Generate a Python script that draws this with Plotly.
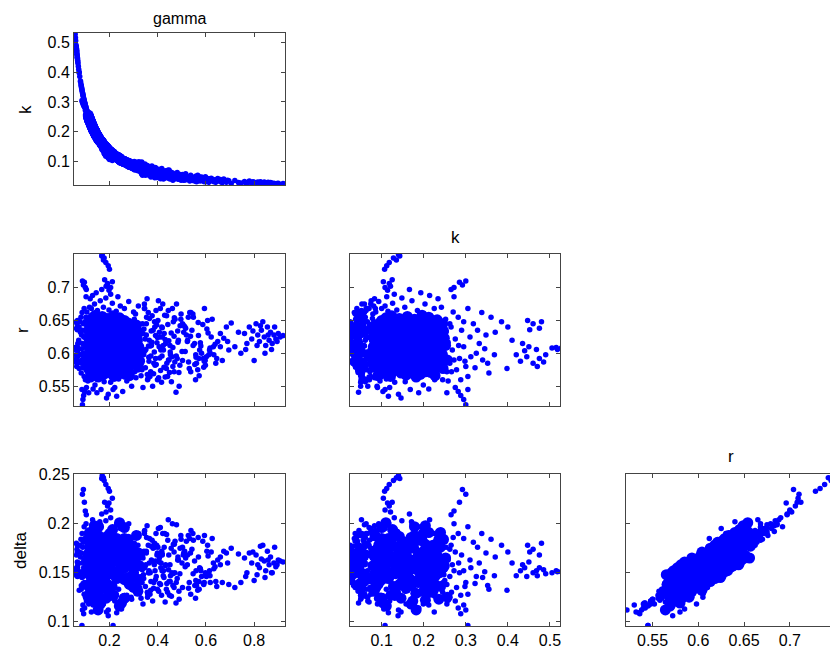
import plotly.graph_objects as go

# ---------------- data ----------------
# dense core of the posterior sample cloud
core_gamma = [
    0.283, 0.241, 0.219, 0.187, 0.172, 0.153, 0.144, 0.130, 0.124,
    0.318, 0.276, 0.250, 0.212, 0.193, 0.168, 0.157, 0.140, 0.134, 0.120, 0.115,
    0.325, 0.285, 0.240, 0.218, 0.186, 0.173, 0.152, 0.145, 0.129, 0.124, 0.112,
    0.314, 0.279, 0.248, 0.211, 0.194, 0.167, 0.158, 0.139, 0.135, 0.119, 0.116,
    0.322, 0.283, 0.243, 0.216, 0.188, 0.171, 0.153, 0.143, 0.131, 0.123, 0.113,
    0.316, 0.277, 0.246, 0.214, 0.191, 0.169, 0.156, 0.141, 0.133, 0.121, 0.114,
    0.321, 0.281, 0.244, 0.217, 0.189, 0.172, 0.154, 0.144, 0.130, 0.122, 0.115,
    0.312, 0.278, 0.247, 0.213, 0.192, 0.168, 0.157, 0.140, 0.134, 0.120, 0.116,
    0.242, 0.215, 0.190, 0.170, 0.155, 0.142, 0.132, 0.122]
core_k = [
    0.091, 0.111, 0.121, 0.146, 0.158, 0.182, 0.192, 0.216, 0.227,
    0.082, 0.095, 0.104, 0.127, 0.139, 0.164, 0.174, 0.199, 0.208, 0.236, 0.246,
    0.079, 0.090, 0.112, 0.122, 0.147, 0.157, 0.181, 0.191, 0.218, 0.228, 0.256,
    0.083, 0.094, 0.105, 0.128, 0.138, 0.166, 0.172, 0.201, 0.206, 0.238, 0.244,
    0.080, 0.092, 0.109, 0.123, 0.145, 0.159, 0.179, 0.194, 0.214, 0.230, 0.252,
    0.082, 0.096, 0.106, 0.125, 0.141, 0.162, 0.176, 0.197, 0.210, 0.234, 0.249,
    0.080, 0.093, 0.108, 0.122, 0.144, 0.158, 0.178, 0.193, 0.216, 0.232, 0.247,
    0.084, 0.095, 0.105, 0.126, 0.140, 0.163, 0.175, 0.199, 0.208, 0.236, 0.245,
    0.110, 0.124, 0.142, 0.161, 0.178, 0.196, 0.212, 0.232]
core_r = [
    0.566, 0.569, 0.565, 0.570, 0.567, 0.564, 0.568, 0.571, 0.566,
    0.579, 0.576, 0.580, 0.577, 0.581, 0.575, 0.578, 0.582, 0.576, 0.579, 0.577,
    0.588, 0.591, 0.587, 0.590, 0.586, 0.592, 0.589, 0.585, 0.591, 0.588, 0.590,
    0.601, 0.598, 0.602, 0.599, 0.603, 0.597, 0.600, 0.604, 0.598, 0.601, 0.599,
    0.610, 0.613, 0.609, 0.612, 0.608, 0.614, 0.611, 0.607, 0.613, 0.610, 0.612,
    0.621, 0.624, 0.620, 0.623, 0.619, 0.625, 0.622, 0.618, 0.624, 0.621, 0.623,
    0.632, 0.635, 0.631, 0.634, 0.630, 0.636, 0.633, 0.629, 0.635, 0.632, 0.634,
    0.643, 0.646, 0.642, 0.645, 0.641, 0.647, 0.644, 0.640, 0.646, 0.643, 0.645,
    0.654, 0.657, 0.653, 0.656, 0.652, 0.658, 0.655, 0.651]
core_delta = [
    0.138, 0.116, 0.148, 0.124, 0.134, 0.112, 0.144, 0.130, 0.138,
    0.131, 0.141, 0.119, 0.151, 0.137, 0.145, 0.121, 0.149, 0.145, 0.123, 0.155,
    0.157, 0.143, 0.151, 0.127, 0.155, 0.151, 0.129, 0.161, 0.137, 0.147, 0.125,
    0.134, 0.162, 0.158, 0.136, 0.168, 0.144, 0.154, 0.132, 0.164, 0.150, 0.158,
    0.143, 0.175, 0.151, 0.161, 0.139, 0.171, 0.157, 0.165, 0.141, 0.169, 0.165,
    0.167, 0.145, 0.177, 0.163, 0.171, 0.147, 0.175, 0.171, 0.149, 0.181, 0.157,
    0.170, 0.178, 0.154, 0.182, 0.178, 0.156, 0.188, 0.164, 0.174, 0.152, 0.184,
    0.188, 0.184, 0.162, 0.194, 0.170, 0.180, 0.158, 0.190, 0.176, 0.184, 0.160,
    0.201, 0.177, 0.187, 0.165, 0.197, 0.183, 0.191, 0.167]

# second, interleaved set of dense-core samples
core2_gamma = [
    0.262, 0.230, 0.202, 0.180, 0.162, 0.148, 0.137, 0.127,
    0.300, 0.262, 0.230, 0.202, 0.180, 0.162, 0.148, 0.137, 0.127, 0.118,
    0.300, 0.262, 0.230, 0.202, 0.180, 0.162, 0.148, 0.137, 0.127, 0.118,
    0.300, 0.262, 0.230, 0.202, 0.180, 0.162, 0.148, 0.137, 0.127, 0.118,
    0.300, 0.262, 0.230, 0.202, 0.180, 0.162, 0.148, 0.137, 0.127, 0.118,
    0.300, 0.262, 0.230, 0.202, 0.180, 0.162, 0.148, 0.137, 0.127, 0.118,
    0.300, 0.262, 0.230, 0.202, 0.180, 0.162, 0.148, 0.137, 0.127, 0.118,
    0.262, 0.230, 0.202, 0.180, 0.162, 0.148, 0.137, 0.127]
core2_k = [
    0.100, 0.116, 0.133, 0.151, 0.170, 0.187, 0.204, 0.222,
    0.086, 0.100, 0.116, 0.133, 0.151, 0.170, 0.187, 0.204, 0.222, 0.240,
    0.086, 0.100, 0.116, 0.133, 0.151, 0.170, 0.187, 0.204, 0.222, 0.240,
    0.086, 0.100, 0.116, 0.133, 0.151, 0.170, 0.187, 0.204, 0.222, 0.240,
    0.086, 0.100, 0.116, 0.133, 0.151, 0.170, 0.187, 0.204, 0.222, 0.240,
    0.086, 0.100, 0.116, 0.133, 0.151, 0.170, 0.187, 0.204, 0.222, 0.240,
    0.086, 0.100, 0.116, 0.133, 0.151, 0.170, 0.187, 0.204, 0.222, 0.240,
    0.100, 0.116, 0.133, 0.151, 0.170, 0.187, 0.204, 0.222]
core2_r = [
    0.573, 0.571, 0.574, 0.572, 0.570, 0.574, 0.572, 0.573,
    0.584, 0.582, 0.585, 0.583, 0.581, 0.585, 0.583, 0.584, 0.582, 0.585,
    0.595, 0.593, 0.596, 0.594, 0.592, 0.596, 0.594, 0.595, 0.593, 0.596,
    0.606, 0.604, 0.607, 0.605, 0.603, 0.607, 0.605, 0.606, 0.604, 0.607,
    0.617, 0.615, 0.618, 0.616, 0.614, 0.618, 0.616, 0.617, 0.615, 0.618,
    0.628, 0.626, 0.629, 0.627, 0.625, 0.629, 0.627, 0.628, 0.626, 0.629,
    0.639, 0.637, 0.640, 0.638, 0.636, 0.640, 0.638, 0.639, 0.637, 0.640,
    0.650, 0.648, 0.651, 0.649, 0.647, 0.651, 0.649, 0.650]
core2_delta = [
    0.124, 0.150, 0.130, 0.144, 0.118, 0.140, 0.122, 0.152,
    0.150, 0.124, 0.146, 0.128, 0.158, 0.138, 0.152, 0.130, 0.156, 0.136,
    0.135, 0.165, 0.145, 0.159, 0.137, 0.163, 0.143, 0.157, 0.131, 0.153,
    0.165, 0.143, 0.169, 0.149, 0.163, 0.137, 0.159, 0.141, 0.171, 0.151,
    0.156, 0.170, 0.144, 0.166, 0.148, 0.178, 0.158, 0.172, 0.150, 0.176,
    0.173, 0.155, 0.185, 0.165, 0.179, 0.157, 0.183, 0.163, 0.177, 0.151,
    0.171, 0.185, 0.163, 0.189, 0.169, 0.183, 0.157, 0.179, 0.161, 0.191,
    0.196, 0.176, 0.190, 0.164, 0.186, 0.168, 0.198, 0.178]

# small-gamma / large-k strip, periphery and outliers
edge_gamma = [
    0.0672, 0.0654, 0.0635, 0.0665, 0.0629, 0.0688, 0.0667, 0.0645, 0.0681, 0.0710,
    0.0695, 0.0675, 0.0654, 0.0635, 0.0618, 0.0641, 0.0624, 0.0600, 0.0590, 0.0578,
    0.0746, 0.0725, 0.0769, 0.0743, 0.0797, 0.0545,
    0.116, 0.112, 0.1093, 0.114, 0.107, 0.1108, 0.1152, 0.1082, 0.1132, 0.1064,
    0.1172, 0.1034, 0.1011, 0.1045, 0.0995, 0.1021, 0.098, 0.0964, 0.095, 0.0937,
    0.0915, 0.0898, 0.088, 0.0861, 0.0844, 0.0829, 0.0818, 0.0866, 0.0932, 0.1002,
    0.1093, 0.1055, 0.1148, 0.1108, 0.098, 0.0905, 0.085, 0.0802, 0.0835, 0.095,
    0.1045, 0.1156, 0.1128, 0.1018, 0.1078, 0.1168, 0.0971, 0.089,
    0.125, 0.138, 0.150, 0.162, 0.175, 0.185, 0.198, 0.212, 0.228, 0.245,
    0.262, 0.280, 0.300, 0.130, 0.145, 0.205, 0.120, 0.168, 0.235, 0.320,
    0.125, 0.140, 0.152, 0.165, 0.178, 0.195, 0.205, 0.222, 0.238, 0.255,
    0.272, 0.292, 0.310, 0.188, 0.148, 0.230, 0.132, 0.262,
    0.140, 0.175, 0.210, 0.250, 0.160, 0.290, 0.125, 0.230, 0.195, 0.310, 0.270, 0.145,
    0.170, 0.178, 0.185, 0.175, 0.195, 0.200, 0.168,
    0.180, 0.192, 0.205, 0.212, 0.186, 0.198,
    0.088, 0.092, 0.096, 0.100, 0.104,
    0.088, 0.090, 0.093, 0.097, 0.086, 0.215,
    0.114, 0.103]
edge_k = [
    0.447, 0.460, 0.475, 0.452, 0.480, 0.435, 0.450, 0.468, 0.440, 0.420,
    0.430, 0.445, 0.460, 0.475, 0.490, 0.470, 0.485, 0.505, 0.515, 0.527,
    0.398, 0.410, 0.385, 0.400, 0.370, 0.518,
    0.245, 0.255, 0.262, 0.250, 0.268, 0.258, 0.247, 0.265, 0.252, 0.270,
    0.242, 0.278, 0.285, 0.275, 0.290, 0.282, 0.295, 0.300, 0.305, 0.310,
    0.318, 0.325, 0.332, 0.340, 0.348, 0.355, 0.360, 0.338, 0.312, 0.288,
    0.262, 0.272, 0.248, 0.258, 0.295, 0.322, 0.345, 0.368, 0.352, 0.305,
    0.275, 0.246, 0.253, 0.283, 0.266, 0.243, 0.298, 0.328,
    0.225, 0.203, 0.185, 0.172, 0.155, 0.148, 0.136, 0.126, 0.115, 0.108,
    0.100, 0.093, 0.086, 0.214, 0.193, 0.130, 0.234, 0.166, 0.112, 0.081,
    0.226, 0.199, 0.182, 0.168, 0.156, 0.140, 0.131, 0.119, 0.111, 0.103,
    0.096, 0.089, 0.083, 0.146, 0.188, 0.116, 0.212, 0.099,
    0.197, 0.158, 0.128, 0.105, 0.171, 0.090, 0.225, 0.117, 0.139, 0.084, 0.097, 0.190,
    0.140, 0.128, 0.118, 0.135, 0.112, 0.107, 0.143,
    0.125, 0.118, 0.108, 0.104, 0.121, 0.114,
    0.300, 0.292, 0.285, 0.272, 0.265,
    0.300, 0.295, 0.288, 0.282, 0.305, 0.108,
    0.255, 0.272]
edge_r = [
    0.650, 0.645, 0.638, 0.636, 0.648, 0.615, 0.610, 0.606, 0.604, 0.598,
    0.588, 0.595, 0.585, 0.592, 0.598, 0.580, 0.587, 0.608, 0.609, 0.608,
    0.577, 0.620, 0.648, 0.640, 0.632, 0.606,
    0.560, 0.572, 0.585, 0.598, 0.605, 0.617, 0.628, 0.640, 0.652, 0.663,
    0.670, 0.575, 0.592, 0.622, 0.635, 0.655, 0.610, 0.580, 0.565, 0.625,
    0.645, 0.600, 0.615, 0.590, 0.628, 0.570, 0.655, 0.662, 0.595, 0.560,
    0.645, 0.590, 0.608, 0.558, 0.648, 0.578, 0.607, 0.598, 0.585, 0.668,
    0.548, 0.585, 0.633, 0.612, 0.572, 0.615, 0.588, 0.635,
    0.668, 0.675, 0.665, 0.680, 0.670, 0.684, 0.666, 0.676, 0.664, 0.672,
    0.668, 0.679, 0.663, 0.688, 0.692, 0.690, 0.683, 0.697, 0.686, 0.672,
    0.560, 0.552, 0.562, 0.545, 0.557, 0.538, 0.556, 0.548, 0.561, 0.542,
    0.558, 0.550, 0.563, 0.532, 0.540, 0.535, 0.546, 0.564,
    0.612, 0.598, 0.625, 0.585, 0.640, 0.605, 0.580, 0.650, 0.572, 0.630, 0.592, 0.605,
    0.750, 0.745, 0.738, 0.742, 0.733, 0.728, 0.748,
    0.712, 0.706, 0.700, 0.709, 0.702, 0.696,
    0.710, 0.704, 0.708, 0.700, 0.697,
    0.522, 0.530, 0.536, 0.542, 0.545, 0.545,
    0.540, 0.686]
edge_delta = [
    0.178, 0.174, 0.168, 0.171, 0.180, 0.158, 0.161, 0.152, 0.155, 0.147,
    0.152, 0.146, 0.150, 0.155, 0.149, 0.147, 0.153, 0.150, 0.152, 0.151,
    0.132, 0.160, 0.178, 0.171, 0.166, 0.151,
    0.130, 0.138, 0.146, 0.142, 0.158, 0.163, 0.165, 0.178, 0.182, 0.186,
    0.193, 0.135, 0.150, 0.171, 0.168, 0.190, 0.152, 0.140, 0.128, 0.163,
    0.181, 0.146, 0.160, 0.145, 0.170, 0.133, 0.184, 0.190, 0.155, 0.127,
    0.174, 0.152, 0.148, 0.122, 0.185, 0.139, 0.151, 0.147, 0.137, 0.197,
    0.121, 0.140, 0.176, 0.160, 0.130, 0.158, 0.136, 0.176,
    0.190, 0.196, 0.187, 0.199, 0.184, 0.203, 0.192, 0.188, 0.181, 0.195,
    0.183, 0.200, 0.186, 0.204, 0.197, 0.206, 0.192, 0.210, 0.199, 0.190,
    0.126, 0.118, 0.129, 0.116, 0.131, 0.112, 0.124, 0.121, 0.133, 0.119,
    0.127, 0.123, 0.135, 0.110, 0.114, 0.109, 0.117, 0.126,
    0.185, 0.118, 0.195, 0.113, 0.202, 0.125, 0.110, 0.200, 0.106, 0.190, 0.165, 0.128,
    0.249, 0.244, 0.240, 0.247, 0.236, 0.233, 0.246,
    0.222, 0.218, 0.214, 0.226, 0.212, 0.221,
    0.230, 0.235, 0.222, 0.213, 0.209,
    0.112, 0.117, 0.108, 0.114, 0.096, 0.096,
    0.118, 0.200]

# long tail towards large gamma / small k
tail_gamma = [
    0.368, 0.333, 0.391, 0.347, 0.376, 0.339, 0.396, 0.354, 0.384, 0.336,
    0.362, 0.399, 0.343, 0.371, 0.351, 0.387, 0.334, 0.365, 0.358, 0.381,
    0.341, 0.393, 0.349, 0.374, 0.337, 0.356, 0.379, 0.345, 0.389, 0.361,
    0.447, 0.409, 0.476, 0.424, 0.497, 0.403, 0.468, 0.433, 0.489, 0.417,
    0.459, 0.427, 0.441, 0.406, 0.472, 0.438, 0.421, 0.486, 0.453, 0.431,
    0.493, 0.413, 0.463, 0.444, 0.419, 0.481, 0.451, 0.461,
    0.566, 0.508, 0.612, 0.527, 0.641, 0.553, 0.503, 0.589, 0.537, 0.622,
    0.574, 0.516, 0.598, 0.546, 0.631, 0.561, 0.519, 0.607, 0.582, 0.533,
    0.649, 0.571, 0.542, 0.615, 0.593, 0.524, 0.602, 0.557,
    0.660, 0.668, 0.674, 0.685, 0.695, 0.705, 0.720, 0.745,
    0.760, 0.770, 0.780, 0.790, 0.800, 0.808, 0.815, 0.822, 0.830, 0.836,
    0.842, 0.848, 0.855, 0.862, 0.868, 0.875, 0.882, 0.890, 0.900, 0.908,
    0.920, 0.845]
tail_k = [
    0.074, 0.060, 0.080, 0.092, 0.086, 0.062, 0.047, 0.061, 0.052, 0.093,
    0.084, 0.066, 0.082, 0.053, 0.073, 0.066, 0.099, 0.061, 0.067, 0.074,
    0.069, 0.063, 0.055, 0.058, 0.055, 0.083, 0.067, 0.074, 0.081, 0.059,
    0.072, 0.064, 0.045, 0.042, 0.038, 0.075, 0.050, 0.046, 0.050, 0.077,
    0.046, 0.058, 0.054, 0.046, 0.058, 0.062, 0.053, 0.041, 0.057, 0.070,
    0.057, 0.052, 0.038, 0.052, 0.068, 0.064, 0.042, 0.063,
    0.055, 0.038, 0.031, 0.049, 0.031, 0.039, 0.053, 0.041, 0.055, 0.045,
    0.039, 0.060, 0.050, 0.037, 0.040, 0.033, 0.042, 0.044, 0.049, 0.035,
    0.044, 0.045, 0.043, 0.034, 0.033, 0.047, 0.034, 0.051,
    0.040, 0.030, 0.042, 0.031, 0.036, 0.027, 0.037, 0.029,
    0.034, 0.026, 0.035, 0.027, 0.031, 0.025, 0.032, 0.026, 0.030, 0.025,
    0.032, 0.026, 0.029, 0.024, 0.030, 0.025, 0.028, 0.024, 0.028, 0.024,
    0.027, 0.028]
tail_r = [
    0.565, 0.578, 0.592, 0.604, 0.617, 0.630, 0.643, 0.655, 0.585, 0.598,
    0.611, 0.624, 0.637, 0.572, 0.606, 0.648, 0.590, 0.620, 0.560, 0.635,
    0.600, 0.665, 0.578, 0.612, 0.645, 0.683, 0.550, 0.675, 0.582, 0.662,
    0.590, 0.625, 0.541, 0.605, 0.660, 0.680, 0.572, 0.615, 0.550, 0.640,
    0.595, 0.630, 0.565, 0.610, 0.652, 0.585, 0.675, 0.620, 0.598, 0.564,
    0.642, 0.605, 0.580, 0.665, 0.625, 0.592, 0.612, 0.668,
    0.575, 0.632, 0.598, 0.655, 0.585, 0.615, 0.645, 0.592, 0.572, 0.625,
    0.605, 0.638, 0.582, 0.660, 0.610, 0.585, 0.628, 0.650, 0.600, 0.662,
    0.618, 0.592, 0.635, 0.605, 0.588, 0.620, 0.595, 0.560,
    0.610, 0.589, 0.623, 0.640, 0.605, 0.646, 0.610, 0.600,
    0.630, 0.615, 0.640, 0.622, 0.589, 0.645, 0.628, 0.618, 0.635, 0.648,
    0.625, 0.612, 0.640, 0.620, 0.632, 0.615, 0.628, 0.622, 0.630, 0.625,
    0.627, 0.600]
tail_delta = [
    0.128, 0.140, 0.143, 0.155, 0.162, 0.165, 0.178, 0.186, 0.140, 0.153,
    0.150, 0.170, 0.172, 0.132, 0.158, 0.180, 0.146, 0.160, 0.125, 0.175,
    0.148, 0.190, 0.136, 0.163, 0.168, 0.198, 0.121, 0.192, 0.152, 0.178,
    0.141, 0.167, 0.119, 0.152, 0.184, 0.195, 0.135, 0.158, 0.123, 0.172,
    0.150, 0.176, 0.130, 0.161, 0.182, 0.139, 0.190, 0.163, 0.147, 0.120,
    0.175, 0.155, 0.137, 0.204, 0.168, 0.144, 0.158, 0.200,
    0.132, 0.170, 0.148, 0.188, 0.141, 0.162, 0.176, 0.139, 0.128, 0.171,
    0.155, 0.165, 0.150, 0.190, 0.160, 0.137, 0.182, 0.178, 0.146, 0.185,
    0.163, 0.141, 0.174, 0.152, 0.140, 0.168, 0.146, 0.124,
    0.158, 0.140, 0.172, 0.170, 0.138, 0.175, 0.135, 0.140,
    0.165, 0.150, 0.170, 0.160, 0.142, 0.168, 0.158, 0.155, 0.164, 0.178,
    0.162, 0.152, 0.172, 0.158, 0.166, 0.150, 0.160, 0.156, 0.163, 0.162,
    0.161, 0.145]

# further scattered tail samples
tail2_gamma = [
    0.305, 0.312, 0.318, 0.326, 0.329, 0.303, 0.331, 0.327, 0.322, 0.308,
    0.339, 0.346, 0.353, 0.363, 0.357,
    0.407, 0.418, 0.429, 0.436, 0.446, 0.452, 0.465, 0.471, 0.483, 0.488,
    0.496, 0.411, 0.423, 0.457, 0.478, 0.501, 0.512, 0.523, 0.531, 0.548,
    0.558, 0.569, 0.579, 0.587, 0.597, 0.609, 0.618, 0.626, 0.638, 0.645,
    0.538, 0.554, 0.503, 0.442, 0.416, 0.468, 0.594, 0.572, 0.660, 0.690,
    0.735, 0.765, 0.795, 0.812, 0.858, 0.885, 0.872, 0.895, 0.826]
tail2_k = [
    0.072, 0.098, 0.070, 0.094, 0.066, 0.101, 0.088, 0.073, 0.100, 0.079,
    0.090, 0.085, 0.079, 0.077, 0.087,
    0.055, 0.066, 0.049, 0.063, 0.048, 0.066, 0.058, 0.047, 0.055, 0.044,
    0.052, 0.070, 0.047, 0.061, 0.059, 0.043, 0.052, 0.040, 0.050, 0.041,
    0.048, 0.036, 0.046, 0.037, 0.045, 0.036, 0.043, 0.038, 0.034, 0.040,
    0.046, 0.035, 0.057, 0.071, 0.050, 0.042, 0.041, 0.050, 0.033, 0.038,
    0.030, 0.029, 0.033, 0.027, 0.031, 0.025, 0.029, 0.027, 0.033]
tail2_r = [
    0.572, 0.598, 0.640, 0.618, 0.583, 0.652, 0.566, 0.605, 0.628, 0.660,
    0.548, 0.668, 0.628, 0.594, 0.568,
    0.632, 0.596, 0.658, 0.577, 0.619, 0.602, 0.648, 0.587, 0.634, 0.571,
    0.652, 0.668, 0.612, 0.557, 0.675, 0.603, 0.641, 0.618, 0.577, 0.655,
    0.598, 0.627, 0.611, 0.644, 0.589, 0.631, 0.600, 0.652, 0.614, 0.592,
    0.662, 0.583, 0.589, 0.644, 0.556, 0.626, 0.668, 0.566, 0.630, 0.618,
    0.632, 0.606, 0.634, 0.612, 0.628, 0.640, 0.606, 0.618, 0.642]
tail2_delta = [
    0.135, 0.147, 0.178, 0.160, 0.141, 0.180, 0.124, 0.158, 0.169, 0.190,
    0.118, 0.193, 0.170, 0.150, 0.130,
    0.165, 0.152, 0.190, 0.133, 0.168, 0.141, 0.179, 0.150, 0.163, 0.131,
    0.188, 0.196, 0.147, 0.126, 0.199, 0.160, 0.172, 0.158, 0.140, 0.183,
    0.142, 0.166, 0.152, 0.182, 0.148, 0.167, 0.140, 0.185, 0.156, 0.136,
    0.193, 0.137, 0.135, 0.183, 0.127, 0.171, 0.188, 0.133, 0.166, 0.160,
    0.169, 0.146, 0.171, 0.148, 0.163, 0.176, 0.150, 0.158, 0.177]

# tail samples with low k (fill the left edge of the k panels)
tail3_gamma = [
    0.335, 0.342, 0.348, 0.353, 0.359, 0.364, 0.369, 0.373, 0.377, 0.383,
    0.386, 0.391, 0.394, 0.397, 0.401, 0.404, 0.408, 0.414, 0.419, 0.426,
    0.431, 0.437, 0.445, 0.449, 0.456, 0.463, 0.469, 0.477, 0.484, 0.492,
    0.506, 0.514, 0.528, 0.536, 0.547, 0.559, 0.568, 0.577, 0.591, 0.604,
    0.617, 0.633, 0.372, 0.388, 0.412, 0.399, 0.366, 0.345]
tail3_k = [
    0.064, 0.058, 0.062, 0.057, 0.060, 0.055, 0.059, 0.063, 0.056, 0.054,
    0.060, 0.052, 0.057, 0.050, 0.055, 0.052, 0.048, 0.054, 0.049, 0.051,
    0.047, 0.053, 0.045, 0.050, 0.044, 0.048, 0.043, 0.046, 0.042, 0.045,
    0.041, 0.039, 0.042, 0.038, 0.040, 0.036, 0.040, 0.035, 0.038, 0.034,
    0.037, 0.033, 0.049, 0.046, 0.043, 0.071, 0.078, 0.066]
tail3_r = [
    0.575, 0.598, 0.622, 0.645, 0.561, 0.588, 0.611, 0.634, 0.657, 0.569,
    0.602, 0.627, 0.583, 0.616, 0.650, 0.563, 0.593, 0.607, 0.639, 0.579,
    0.621, 0.657, 0.590, 0.571, 0.631, 0.609, 0.654, 0.596, 0.617, 0.582,
    0.643, 0.603, 0.587, 0.626, 0.612, 0.594, 0.647, 0.616, 0.579, 0.637,
    0.608, 0.598, 0.596, 0.640, 0.574, 0.560, 0.653, 0.668]
tail3_delta = [
    0.140, 0.144, 0.171, 0.172, 0.128, 0.152, 0.150, 0.177, 0.183, 0.134,
    0.158, 0.162, 0.146, 0.168, 0.176, 0.131, 0.139, 0.160, 0.169, 0.145,
    0.157, 0.189, 0.153, 0.127, 0.175, 0.149, 0.179, 0.140, 0.166, 0.149,
    0.168, 0.156, 0.134, 0.170, 0.149, 0.152, 0.186, 0.154, 0.138, 0.172,
    0.147, 0.154, 0.141, 0.176, 0.138, 0.133, 0.185, 0.190]

ticks = {
    "gamma": [0.2, 0.4, 0.6, 0.8],
    "k": [0.1, 0.2, 0.3, 0.4, 0.5],
    "r": [0.55, 0.6, 0.65, 0.7],
    "delta": [0.1, 0.15, 0.2, 0.25],
}
tick_text = {
    "gamma": ["0.2", "0.4", "0.6", "0.8"],
    "k": ["0.1", "0.2", "0.3", "0.4", "0.5"],
    "r": ["0.55", "0.6", "0.65", "0.7"],
    "delta": ["0.1", "0.15", "0.2", "0.25"],
}

# ---------------- layout ----------------
OFF = 8                      # page body margin of the html page
W, H = 838 - OFF, 653 - OFF
col_px = [(74, 285), (350, 560), (626, 837)]
row_px = [(33, 185), (254, 406), (474, 626)]
x_range = {"gamma": [0.053, 0.928], "k": [0.0247, 0.524], "r": [0.521, 0.7515]}
y_range = {"k": [0.022, 0.531], "r": [0.520, 0.751], "delta": [0.0956, 0.2507]}

core = {
    "gamma": core_gamma + core2_gamma,
    "k": core_k + core2_k,
    "r": core_r + core2_r,
    "delta": core_delta + core2_delta,
}
small = {
    "gamma": edge_gamma + tail_gamma + tail2_gamma + tail3_gamma,
    "k": edge_k + tail_k + tail2_k + tail3_k,
    "r": edge_r + tail_r + tail2_r + tail3_r,
    "delta": edge_delta + tail_delta + tail2_delta + tail3_delta,
}

panels = [  # (row, col, x variable, y variable)
    (0, 0, "gamma", "k"),
    (1, 0, "gamma", "r"),
    (1, 1, "k", "r"),
    (2, 0, "gamma", "delta"),
    (2, 1, "k", "delta"),
    (2, 2, "r", "delta"),
]


def px_x(p):
    return min(1.0, (p - OFF) / W)


def px_y(p):
    return min(1.0, max(0.0, 1 - (p - OFF) / H))


BLUE = "#0000ff"
FONT = "Liberation Sans, Arial, Helvetica, sans-serif"
fig = go.Figure()
layout = dict(
    width=W, height=H,
    margin=dict(l=0, r=0, t=0, b=0),
    paper_bgcolor="white", plot_bgcolor="white",
    showlegend=False,
    font=dict(family=FONT, size=16, color="black"),
)

for i, (row, col, xv, yv) in enumerate(panels):
    n = i + 1
    xa = "x" if n == 1 else f"x{n}"
    ya = "y" if n == 1 else f"y{n}"
    fig.add_trace(go.Scatter(
        x=small[xv], y=small[yv], mode="markers", xaxis=xa, yaxis=ya,
        marker=dict(size=5.5, color=BLUE, line=dict(width=0)), hoverinfo="skip"))
    fig.add_trace(go.Scatter(
        x=core[xv], y=core[yv], mode="markers", xaxis=xa, yaxis=ya,
        marker=dict(size=11, color=BLUE, line=dict(width=0)), hoverinfo="skip"))
    common = dict(showline=True, linecolor="#444444", linewidth=1, mirror="allticks",
                  ticks="inside", ticklen=4, tickcolor="#444444", showgrid=False,
                  zeroline=False, automargin=False,
                  tickfont=dict(family=FONT, size=16, color="black"))
    layout["xaxis" if n == 1 else f"xaxis{n}"] = dict(
        common, domain=[px_x(col_px[col][0]), px_x(col_px[col][1])],
        range=x_range[xv], tickvals=ticks[xv], ticktext=tick_text[xv],
        showticklabels=(row == 2), anchor=ya)
    layout["yaxis" if n == 1 else f"yaxis{n}"] = dict(
        common, domain=[px_y(row_px[row][1]), px_y(row_px[row][0])],
        range=y_range[yv], tickvals=ticks[yv], ticktext=tick_text[yv],
        showticklabels=(col == 0), anchor=xa)

ann = []
# column titles
ann.append(dict(text="gamma", x=px_x(179.5), y=1.0, xref="paper", yref="paper",
                showarrow=False, xanchor="center", yanchor="top",
                font=dict(family=FONT, size=16, color="black")))
for txt, px, py in [("k", 455, 237), ("r", 731, 457)]:
    ann.append(dict(text=txt, x=px_x(px), y=px_y(py), xref="paper", yref="paper",
                    showarrow=False, xanchor="center", yanchor="middle",
                    font=dict(family=FONT, size=17, color="black")))
# row labels
for txt, px, py in [("k", 26, 110), ("r", 22, 330), ("delta", 20, 551)]:
    ann.append(dict(text=txt, x=px_x(px), y=px_y(py), xref="paper", yref="paper",
                    showarrow=False, xanchor="center", yanchor="middle", textangle=-90,
                    font=dict(family=FONT, size=17, color="black")))
layout["annotations"] = ann
fig.update_layout(**layout)

fig.write_html("out.html")
